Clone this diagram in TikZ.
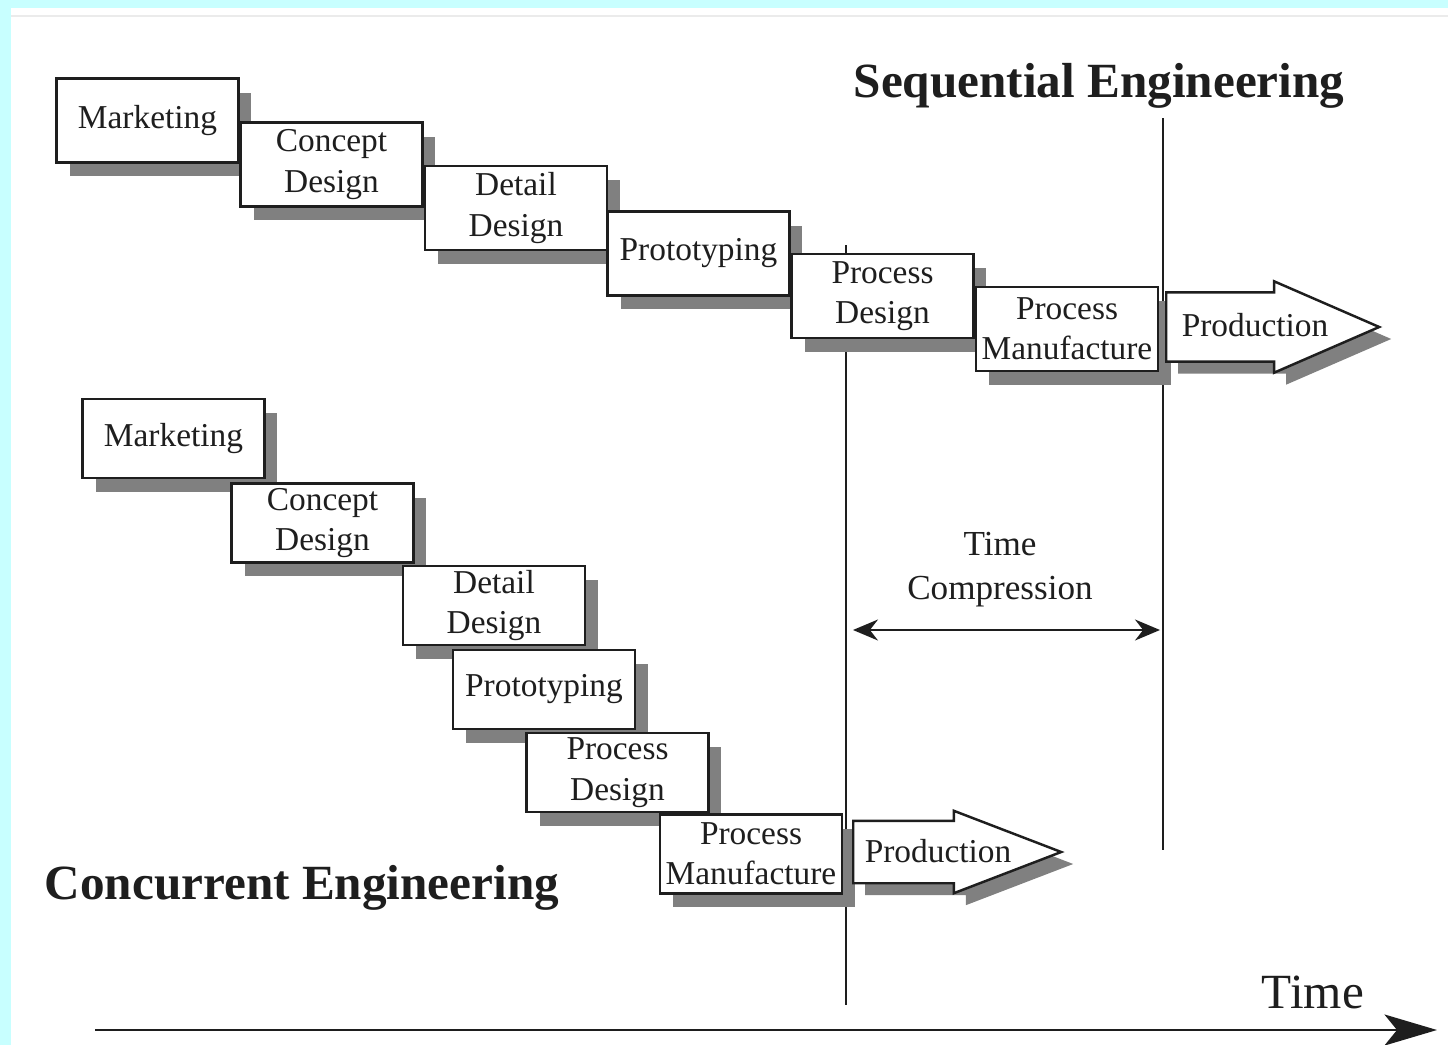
\documentclass[tikz,border=0pt]{standalone}
\usepackage{fontspec}
\setmainfont{Liberation Serif}
\usepackage{xcolor}
\usetikzlibrary{shadows,shapes.arrows,arrows.meta}

\definecolor{framecyan}{RGB}{200,255,255}
\definecolor{inkgray}{RGB}{30,30,30}

\begin{document}
\begin{tikzpicture}[x=0.02cm,y=-0.02cm,
	stage/.style={draw=inkgray,line width=1.4pt,fill=white,align=center,
		minimum width=3.64cm,inner sep=0pt,text=inkgray,
		font=\fontsize{19}{23}\selectfont,
		drop shadow={shadow xshift=0.26cm,shadow yshift=-0.28cm,fill=black!50,opacity=1}},
	seqstage/.style={stage,minimum height=1.68cm},
	constage/.style={stage,minimum height=1.58cm},
	prodarrow/.style={single arrow,draw=inkgray,line width=1.4pt,fill=white,
		inner xsep=0pt,anchor=west,single arrow head indent=0pt,
		drop shadow={shadow xshift=0.24cm,shadow yshift=-0.24cm,fill=black!50,opacity=1}},
	prodtext/.style={text=inkgray,font=\fontsize{19}{23}\selectfont},
	marker/.style={draw=inkgray,line width=1.1pt},
	heading/.style={text=inkgray,font=\fontsize{28}{32}\selectfont\bfseries}]

	\useasboundingbox (0,0) rectangle (1448,1045);
	\fill[framecyan] (0,0) rectangle (11,1045);
	\fill[framecyan] (0,0) rectangle (1448,8);
	\draw[black!8,line width=1.2pt] (11,16) -- (1448,16);

	\coordinate (seqline top) at (846,245);
	\coordinate (seqline bot) at (846,1005);
	\coordinate (conline top) at (1163,118);
	\coordinate (conline bot) at (1163,850);
	\draw[marker] (seqline top) -- (seqline bot);
	\draw[marker] (conline top) -- (conline bot);

	\node[heading] (seqtitle) at (1099,86) {Sequential Engineering};
	\node[seqstage] (seqmkt) at (147.5,120.5) {Marketing};
	\node[seqstage] (seqcon) at (331.5,164.5) {Concept\\Design};
	\node[seqstage] (seqdet) at (516,208) {Detail\\Design};
	\node[seqstage] (seqpro) at (698.5,253.5) {Prototyping};
	\node[seqstage] (seqpde) at (882.5,296) {Process\\Design};
	\node[seqstage] (seqpma) at (1067,329) {Process\\Manufacture};
	\node[prodarrow,minimum height=4.26cm,inner ysep=0.67cm,
		single arrow head extend=0.22cm,single arrow tip angle=47] (seqprod) at (1165,327) {};
	\node[prodtext] (seqprodtxt) at (1255,325) {Production};

	\node[constage] (conmkt) at (173.5,438.5) {Marketing};
	\node[constage] (concon) at (322.5,523) {Concept\\Design};
	\node[constage] (condet) at (494,605.5) {Detail\\Design};
	\node[constage] (conpro) at (544,689.5) {Prototyping};
	\node[constage] (conpde) at (617.5,772.5) {Process\\Design};
	\node[constage] (conpma) at (751,854) {Process\\Manufacture};
	\node[prodarrow,minimum height=4.16cm,inner ysep=0.6cm,
		single arrow head extend=0.2cm,single arrow tip angle=42] (conprod) at (852,852) {};
	\node[prodtext] (conprodtxt) at (938,851) {Production};
	\node[heading] (contitle) at (302,888) {Concurrent Engineering};

	\node[align=center,text=inkgray,font=\fontsize{20}{25}\selectfont] (tclabel) at (1000,570) {Time\\Compression};
	\coordinate (tc left) at (853,630);
	\coordinate (tc right) at (1160,630);
	\draw[marker,{Stealth[length=0.5cm,width=0.42cm]}-{Stealth[length=0.5cm,width=0.42cm]}] (tc left) -- (tc right);

	\node[text=inkgray,font=\fontsize{28}{32}\selectfont] (timelabel) at (1313,992) {Time};
	\coordinate (axis start) at (95,1030);
	\coordinate (axis end) at (1437,1030);
	\draw[draw=inkgray,line width=1.6pt,-{Stealth[length=1.05cm,width=0.62cm,inset=0.25cm]}] (axis start) -- (axis end);
\end{tikzpicture}
\end{document}
